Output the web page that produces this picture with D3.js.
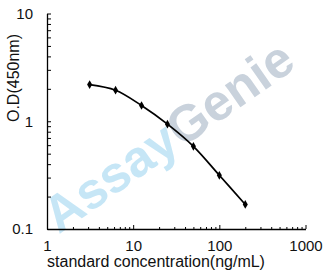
<!DOCTYPE html>
<html>
<head>
<meta charset="utf-8">
<script src="https://cdn.jsdelivr.net/npm/d3@7"></script>
<style>
  html, body { margin: 0; padding: 0; background: #fff; }
  svg { display: block; font-family: "Liberation Sans", Arial, sans-serif; }
</style>
</head>
<body>
<svg id="chart"></svg>
<script>
// standard curve data
var concentrations = [3.125, 6.25, 12.5, 25, 50, 100, 200];
var odValues = [2.19, 1.94, 1.40, 0.94, 0.585, 0.315, 0.169];
var xTickLabels = [1, 10, 100, 1000];
var yTickLabels = [0.1, 1, 10];

var iWidth = 325, iHeight = 278;
var oSvg = d3.select("#chart").attr("width", iWidth).attr("height", iHeight);

var oScaleX = d3.scaleLog().domain([1, 1000]).range([47, 305.5]);
var oScaleY = d3.scaleLog().domain([0.1, 10]).range([229, 13.5]);

// watermark
var oMark = oSvg.append("text")
  .attr("transform", "translate(168,136) rotate(-35)")
  .attr("text-anchor", "middle")
  .attr("y", 18)
  .style("font-size", "51px")
  .style("font-weight", "bold");
oMark.append("tspan").attr("fill", "#c6e6f6").text("Assay");
oMark.append("tspan").attr("fill", "#c9d2dc").text("Genie");

function isMajor(v) {
  return xTickLabels.concat(yTickLabels).some(function (t) { return Math.abs(t - v) < 1e-9; });
}

// x axis, ticks pointing inward
var oXAxis = oSvg.append("g")
  .attr("transform", "translate(0," + oScaleY(0.1) + ")")
  .call(d3.axisBottom(oScaleX)
    .tickValues(oScaleX.ticks())
    .tickSizeInner(-4).tickSizeOuter(0).tickPadding(11)
    .tickFormat(function (d) { return xTickLabels.indexOf(d) >= 0 ? d : ""; }));
oXAxis.selectAll(".tick line").attr("y2", function (d) { return isMajor(d) ? -4 : -2; });

// y axis, ticks pointing inward
var oYAxis = oSvg.append("g")
  .attr("transform", "translate(" + oScaleX(1) + ",0)")
  .call(d3.axisLeft(oScaleY)
    .tickValues(oScaleY.ticks())
    .tickSizeInner(-4).tickSizeOuter(0).tickPadding(14)
    .tickFormat(function (d) { return yTickLabels.indexOf(d) >= 0 ? d : ""; }));

oSvg.selectAll(".domain").attr("stroke", "#000").attr("stroke-width", 1.3);
oSvg.selectAll(".tick line").attr("stroke", "#000");
oSvg.selectAll(".tick text").attr("fill", "#111").style("font-size", "15px").style("font-family", "Liberation Sans, Arial, sans-serif");

// axis titles
oSvg.append("text")
  .attr("x", 156).attr("y", 267)
  .attr("text-anchor", "middle")
  .attr("fill", "#111")
  .style("font-size", "16px")
  .text("standard concentration(ng/mL)");
oSvg.append("text")
  .attr("transform", "translate(19,78) rotate(-90)")
  .attr("text-anchor", "middle")
  .attr("fill", "#111")
  .style("font-size", "16px")
  .text("O.D(450nm)");

// curve
var aData = concentrations.map(function (c, i) { return { x: c, y: odValues[i] }; });
var oLine = d3.line()
  .x(function (d) { return oScaleX(d.x); })
  .y(function (d) { return oScaleY(d.y); })
  .curve(d3.curveCatmullRom.alpha(0.5));

oSvg.append("path")
  .datum(aData)
  .attr("fill", "none")
  .attr("stroke", "#000")
  .attr("stroke-width", 1.7)
  .attr("d", oLine);

oSvg.append("g").selectAll("path")
  .data(aData)
  .enter().append("path")
  .attr("transform", function (d) { return "translate(" + oScaleX(d.x) + "," + oScaleY(d.y) + ")"; })
  .attr("d", d3.symbol().type(d3.symbolDiamond).size(22))
  .attr("fill", "#000");
</script>
</body>
</html>
